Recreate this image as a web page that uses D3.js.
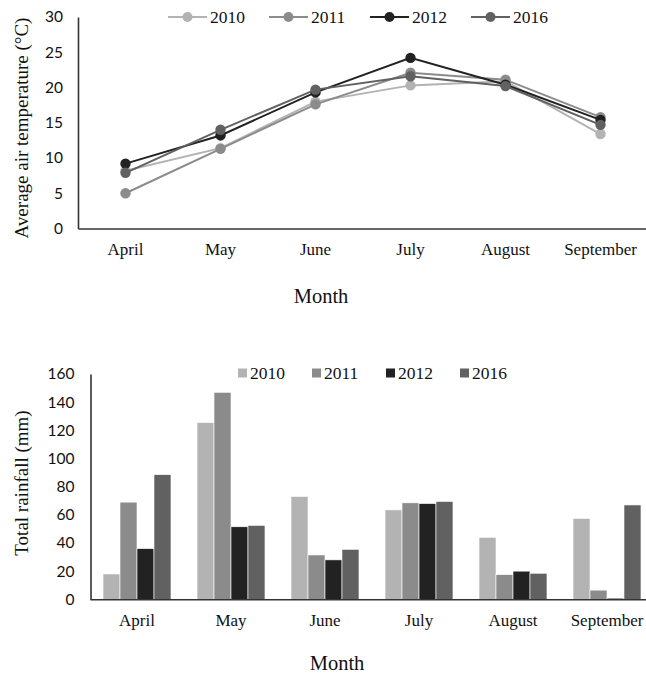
<!DOCTYPE html>
<html>
<head>
<meta charset="utf-8">
<script src="https://cdn.jsdelivr.net/npm/d3@7"></script>
<style>
  body { margin: 0; background: #fff; }
  svg { display: block; }
  .num { font-family: Lato, "Open Sans", sans-serif; }
  .serif { font-family: "Liberation Serif", "DejaVu Serif", serif; }
</style>
</head>
<body>
<svg id="chart" width="646" height="676"></svg>
<script>
// data
const months = ["April", "May", "June", "July", "August", "September"];
const years = ["2010", "2011", "2012", "2016"];
const colors = ["#b3b3b3", "#8b8b8b", "#222222", "#616161"];

// average air temperature (°C)
const temp2010 = [8.2, 11.4, 18.0, 20.3, 20.9, 13.4];
const temp2011 = [5.0, 11.3, 17.6, 22.1, 21.1, 15.8];
const temp2012 = [9.2, 13.2, 19.3, 24.2, 20.4, 15.4];
const temp2016 = [7.9, 14.0, 19.7, 21.6, 20.2, 14.7];

// total rainfall (mm)
const rain2010 = [18, 125.5, 73, 63.5, 44, 57.5];
const rain2011 = [69, 147, 31.5, 68.5, 17.5, 6.5];
const rain2012 = [36, 51.5, 28, 68, 20, 0.8];
const rain2016 = [88.5, 52.5, 35.5, 69.5, 18.5, 67];

const tempTicks = [0, 5, 10, 15, 20, 25, 30];
const rainTicks = [0, 20, 40, 60, 80, 100, 120, 140, 160];

const tempSeries = [temp2010, temp2011, temp2012, temp2016];
const rainSeries = [rain2010, rain2011, rain2012, rain2016];

const svg = d3.select("#chart");
const axisColor = "#333";

function styleAxis(g, fontSize, cls) {
  g.attr("font-family", null).attr("font-size", null);
  g.select(".domain").attr("stroke", axisColor).attr("stroke-width", 1.6);
  g.selectAll(".tick line").remove();
  g.selectAll(".tick text").attr("class", cls).attr("fill", "#111").style("font-size", fontSize);
}

// ---------- top: temperature lines ----------
let x = d3.scaleBand().domain(months).range([78, 648]);
let y = d3.scaleLinear().domain([0, 30]).range([228.5, 17]);

svg.append("g")
  .attr("transform", "translate(0," + y(0) + ")")
  .call(d3.axisBottom(x).tickSize(0).tickPadding(14).tickSizeOuter(0))
  .call(g => styleAxis(g, "17px", "serif"));

svg.append("g")
  .attr("transform", "translate(" + x.range()[0] + ",0)")
  .call(d3.axisLeft(y).tickValues(tempTicks).tickSize(0).tickPadding(15).tickSizeOuter(0))
  .call(g => styleAxis(g, "15.5px", "num"));

let line = d3.line()
  .x((d, i) => x(months[i]) + x.bandwidth() / 2)
  .y(d => y(d));

tempSeries.forEach(function(vals, k) {
  svg.append("path")
    .datum(vals)
    .attr("fill", "none")
    .attr("stroke", colors[k])
    .attr("stroke-width", 2)
    .attr("d", line);
  svg.selectAll(".dot" + k)
    .data(vals)
    .enter().append("circle")
    .attr("class", "dot" + k)
    .attr("cx", (d, i) => x(months[i]) + x.bandwidth() / 2)
    .attr("cy", d => y(d))
    .attr("r", 5.2)
    .attr("fill", colors[k]);
});

// legend (top)
let leg = svg.append("g").selectAll("g")
  .data(years)
  .enter().append("g")
  .attr("transform", (d, i) => "translate(" + (168 + i * 101) + ",17)");
leg.append("line")
  .attr("x1", 0).attr("x2", 39)
  .attr("stroke", (d, i) => colors[i]).attr("stroke-width", 2);
leg.append("circle")
  .attr("cx", 19.5).attr("r", 5)
  .attr("fill", (d, i) => colors[i]);
leg.append("text")
  .attr("class", "serif")
  .attr("x", 42).attr("dy", "0.35em")
  .style("font-size", "17.5px")
  .attr("fill", "#111")
  .text(d => d);

svg.append("text")
  .attr("class", "serif")
  .attr("transform", "translate(28,128) rotate(-90)")
  .attr("text-anchor", "middle")
  .style("font-size", "19px")
  .attr("fill", "#111")
  .text("Average air temperature (°C)");

svg.append("text")
  .attr("class", "serif")
  .attr("x", 321).attr("y", 303)
  .attr("text-anchor", "middle")
  .style("font-size", "20.5px")
  .attr("fill", "#111")
  .text("Month");

// ---------- bottom: rainfall bars ----------
let x0 = d3.scaleBand().domain(months).range([90, 654])
  .paddingInner(0.277).paddingOuter(0.1385);
let x1 = d3.scaleBand().domain(years).range([0, x0.bandwidth()]);
let y2 = d3.scaleLinear().domain([0, 160]).range([599.3, 374]);

rainSeries.forEach(function(vals, k) {
  svg.selectAll(".bar" + k)
    .data(vals)
    .enter().append("rect")
    .attr("class", "bar" + k)
    .attr("x", (d, i) => x0(months[i]) + x1(years[k]))
    .attr("width", x1.bandwidth())
    .attr("y", d => y2(d))
    .attr("height", d => y2(0) - y2(d))
    .attr("fill", colors[k])
    .attr("stroke", "#fff")
    .attr("stroke-width", 0.6);
});

svg.append("g")
  .attr("transform", "translate(0," + y2(0) + ")")
  .call(d3.axisBottom(x0).tickSize(0).tickPadding(14.5).tickSizeOuter(0))
  .call(g => styleAxis(g, "17px", "serif"));

svg.append("g")
  .attr("transform", "translate(90.5,0)")
  .call(d3.axisLeft(y2).tickValues(rainTicks).tickSize(0).tickPadding(16).tickSizeOuter(0))
  .call(g => styleAxis(g, "15.5px", "num"));

// legend (bottom)
let leg2 = svg.append("g").selectAll("g")
  .data(years)
  .enter().append("g")
  .attr("transform", (d, i) => "translate(" + (238 + i * 74) + ",373)");
leg2.append("rect")
  .attr("x", 0).attr("y", -4.5)
  .attr("width", 9).attr("height", 9)
  .attr("fill", (d, i) => colors[i]);
leg2.append("text")
  .attr("class", "serif")
  .attr("x", 12).attr("dy", "0.35em")
  .style("font-size", "17.5px")
  .attr("fill", "#111")
  .text(d => d);

svg.append("text")
  .attr("class", "serif")
  .attr("transform", "translate(28,483) rotate(-90)")
  .attr("text-anchor", "middle")
  .style("font-size", "19px")
  .attr("fill", "#111")
  .text("Total rainfall (mm)");

svg.append("text")
  .attr("class", "serif")
  .attr("x", 337).attr("y", 670)
  .attr("text-anchor", "middle")
  .style("font-size", "20.5px")
  .attr("fill", "#111")
  .text("Month");
</script>
</body>
</html>
